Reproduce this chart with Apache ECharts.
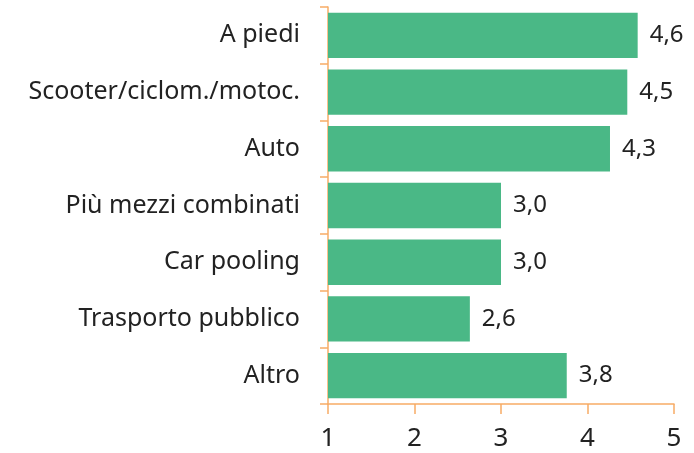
<!DOCTYPE html>
<html lang="it">
<head>
  <meta charset="UTF-8">
  <title>Mezzi di trasporto</title>
  <script src="https://cdn.jsdelivr.net/npm/echarts@6/dist/echarts.min.js"></script>
  <style>
    body { margin: 0; background: #fff; }
    #chart { width: 694px; height: 453px; }
  </style>
</head>
<body>
  <div id="chart"></div>
  <script>
    // categorie (dall'alto verso il basso)
    const categories = ['A piedi', 'Scooter/ciclom./motoc.', 'Auto', 'Più mezzi combinati', 'Car pooling', 'Trasporto pubblico', 'Altro'];
    const values = [4.58, 4.46, 4.26, 3.0, 3.0, 2.64, 3.76];
    const xTicks = [1, 2, 3, 4, 5];

    const axisColor = '#F7AC66';
    const font = '"Noto Sans", sans-serif';

    const chart = echarts.init(document.getElementById('chart'));
    chart.setOption({
      animation: false,
      grid: { left: 328, right: 20, top: 7, bottom: 49 },
      xAxis: {
        type: 'value',
        min: xTicks[0],
        max: xTicks[xTicks.length - 1],
        interval: 1,
        axisLine: { show: true, lineStyle: { color: axisColor, width: 1.5 } },
        axisTick: { show: true, length: 10, inside: false, lineStyle: { color: axisColor, width: 1.5 } },
        splitLine: { show: false },
        axisLabel: { color: '#222', fontSize: 26, fontFamily: font, margin: 22 }
      },
      yAxis: {
        type: 'category',
        inverse: true,
        data: categories,
        axisLine: { show: true, lineStyle: { color: axisColor, width: 1.5 } },
        axisTick: { show: true, length: 8, lineStyle: { color: axisColor, width: 1.5 } },
        axisLabel: { color: '#222', fontSize: 25, fontFamily: font, margin: 28 }
      },
      series: [{
        type: 'bar',
        data: values,
        barWidth: '80%',
        itemStyle: { color: '#4AB886' },
        label: {
          show: true,
          position: 'right',
          distance: 12,
          color: '#222',
          fontSize: 24,
          fontFamily: font,
          formatter: p => p.value.toFixed(1).replace('.', ',')
        }
      }]
    });
  </script>
</body>
</html>
